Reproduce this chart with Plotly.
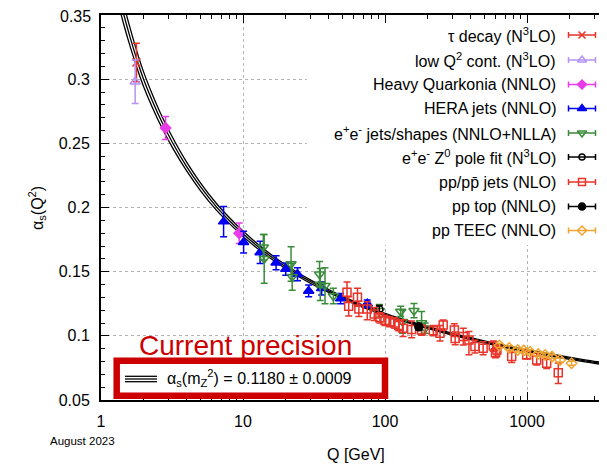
import plotly.graph_objects as go

# running coupling curve (central value and half band width)
curve_q = [1.3, 1.45, 1.6, 1.8, 2.0, 2.3, 2.7, 3.2, 4.0, 5.0, 6.5, 8.0, 10, 13, 17, 22, 30, 40,
           55, 75, 91.2, 120, 170, 250, 400, 650, 1000, 1600, 2500, 3800]
curve_mid = [0.371, 0.350, 0.333, 0.3144, 0.2996, 0.283, 0.266, 0.2503, 0.2321, 0.2164, 0.2005,
             0.1899, 0.1796, 0.1688, 0.1591, 0.1508, 0.1421, 0.135, 0.1278, 0.1218, 0.1183,
             0.1138, 0.1087, 0.1035, 0.0978, 0.0925, 0.0884, 0.0843, 0.0807, 0.0777]
curve_band = [0.0088, 0.0078, 0.0071, 0.0063, 0.0057, 0.0051, 0.0045, 0.0040, 0.0034, 0.0030,
              0.0026, 0.0023, 0.0021, 0.0018, 0.0016, 0.0015, 0.0013, 0.0012, 0.0010, 0.0009,
              0.0009, 0.0008, 0.0008, 0.0008, 0.0008, 0.0008, 0.0008, 0.0008, 0.0008, 0.0008]

tau_q = [1.777]
tau_a = [0.313]
tau_e = [0.015]

lowq_q = [1.74]
lowq_a = [0.298]
lowq_e = [0.017]

hq_q = [2.85, 9.4]
hq_a = [0.262, 0.180]
hq_e = [0.009, 0.008]

hera_q = [7.3, 10.1, 13.2, 17.1, 20.0, 24.2, 29.0, 35.8, 48.7, 75.0]
hera_a = [0.189, 0.173, 0.165, 0.157, 0.152, 0.148, 0.135, 0.137, 0.129, 0.125]
hera_e = [0.0117, 0.0084, 0.0087, 0.0055, 0.0047, 0.005, 0.0046, 0.0052, 0.004, 0.003]

ee_q = [13.9, 14.1, 21.8, 22.2, 34.6, 35.0, 37.8, 43.3, 91.2, 129, 133, 160, 181, 192]
ee_a = [0.169, 0.160, 0.156, 0.146, 0.148, 0.140, 0.139, 0.131, 0.1195, 0.119, 0.111, 0.1196,
        0.110, 0.106]
ee_e = [0.010, 0.019, 0.0135, 0.0105, 0.010, 0.0125, 0.014, 0.006, 0.005, 0.004, 0.009, 0.0055,
        0.009, 0.004]

zpole_q = [91.19]
zpole_a = [0.1208]
zpole_e = [0.0028]

pp_q = [54, 55.5, 64, 65.5, 75, 84, 92, 100, 108, 117, 125, 134, 154, 181, 219, 244, 257, 308,
        312, 356, 390, 430, 491, 579, 600, 614, 780, 995, 1170, 1376, 1660]
pp_a = [0.134, 0.123, 0.130, 0.121, 0.121, 0.117, 0.114, 0.112, 0.111, 0.110, 0.108, 0.106, 0.105,
        0.1045, 0.104, 0.102, 0.1084, 0.1045, 0.098, 0.0994, 0.0968, 0.0916, 0.0903, 0.092, 0.0869,
        0.089, 0.0838, 0.0851, 0.0812, 0.0786, 0.0713]
pp_up = [0.008, 0.0075, 0.007, 0.006, 0.0055, 0.005, 0.004, 0.004, 0.004, 0.004, 0.004, 0.0065,
         0.0065, 0.004, 0.004, 0.006, 0.004, 0.005, 0.005, 0.0065, 0.0065, 0.005, 0.005, 0.004,
         0.004, 0.004, 0.0045, 0.003, 0.0055, 0.004, 0.0075]
pp_dn = [0.008, 0.0075, 0.007, 0.006, 0.0085, 0.005, 0.004, 0.004, 0.004, 0.004, 0.004, 0.0065,
         0.0065, 0.004, 0.004, 0.006, 0.004, 0.005, 0.005, 0.0065, 0.0115, 0.005, 0.005, 0.004,
         0.004, 0.004, 0.0045, 0.003, 0.004, 0.004, 0.0085]

top_q = [173]
top_a = [0.107]
top_e = [0.0025]

teec_q = [640, 750, 860, 950, 1050, 1200, 1340, 1500, 1710, 2060]
teec_a = [0.0925, 0.0905, 0.089, 0.0885, 0.0876, 0.0858, 0.0851, 0.0838, 0.0812, 0.0786]
teec_e = [0.0015, 0.0015, 0.0015, 0.0015, 0.0015, 0.0015, 0.0015, 0.0015, 0.0015, 0.0015]

y_ticks = [0.05, 0.1, 0.15, 0.2, 0.25, 0.3, 0.35]
y_labels = ['0.05', '0.1', '0.15', '0.2', '0.25', '0.3', '0.35']

RED = '#e8342a'
series = [
    # label, q, alpha, err up, err down, colour, symbol, size
    ('τ decay (N<sup>3</sup>LO)', tau_q, tau_a, tau_e, tau_e, RED, 'x-thin', 8),
    ('low Q<sup>2</sup> cont. (N<sup>3</sup>LO)', lowq_q, lowq_a, lowq_e, lowq_e, '#b594f5', 'triangle-up-open', 9),
    ('Heavy Quarkonia (NNLO)', hq_q, hq_a, hq_e, hq_e, '#e83ce8', 'diamond', 8),
    ('HERA jets (NNLO)', hera_q, hera_a, hera_e, hera_e, '#0000f0', 'triangle-up', 9),
    ('e<sup>+</sup>e<sup>-</sup> jets/shapes (NNLO+NLLA)', ee_q, ee_a, ee_e, ee_e, '#3a8c3a', 'triangle-down-open', 9),
    ('e<sup>+</sup>e<sup>-</sup> Z<sup>0</sup> pole fit (N<sup>3</sup>LO)', zpole_q, zpole_a, zpole_e, zpole_e, 'black', 'circle-open', 7),
    ('pp/pp\u0304 jets (NLO)', pp_q, pp_a, pp_up, pp_dn, RED, 'square-open', 8),
    ('pp top (NNLO)', top_q, top_a, top_e, top_e, 'black', 'circle', 8),
    ('pp TEEC (NNLO)', teec_q, teec_a, teec_e, teec_e, '#f0a431', 'diamond-open', 8),
]

# plot area in screen pixels: x 101..607, y 15..400 (page body adds 8 px)
def px(x):
    return (x - 101) / 506.0


def py(y):
    return (400 - y) / 385.0


fig = go.Figure()

# band: lower, central, upper line
for sign in (-1, 0, 1):
    fig.add_trace(go.Scatter(
        x=curve_q, y=[m + sign * b for m, b in zip(curve_mid, curve_band)],
        mode='lines', line=dict(color='black', width=1.3, shape='spline'),
        hoverinfo='skip'))

for label, q, a, up, dn, col, sym, size in series:
    fig.add_trace(go.Scatter(
        x=q, y=a, mode='markers', name=label,
        marker=dict(symbol=sym, size=size, color=col, line=dict(color=col, width=1.5)),
        error_y=dict(type='data', array=up, arrayminus=dn, color=col, thickness=1.5, width=3.5)))

# hand made legend: text right aligned, sample on the right
legend_rows = [35, 60, 84.5, 108.5, 133, 157, 182, 206.5, 230.5]
annotations = []
for (label, q, a, up, dn, col, sym, size), ry in zip(series, legend_rows):
    annotations.append(dict(x=px(558), y=py(ry), text=label, xanchor='right',
                            font=dict(size=16, color='black')))
    fig.add_trace(go.Scatter(
        x=[px(582)], y=[py(ry)], xaxis='x2', yaxis='y2', mode='markers',
        marker=dict(symbol=sym, size=size - 1, color=col, line=dict(color=col, width=1.5)),
        error_x=dict(type='constant', value=13.5 / 506, color=col, thickness=1.5, width=3)))

annotations += [
    # top tick label sits on the page edge, plotly drops it, so write it by hand
    dict(x=px(93), y=py(16), xanchor='right', text=y_labels[-1], font=dict(size=16)),
    dict(x=px(37), y=py(208), text='α<sub>s</sub>(Q<sup>2</sup>)', textangle=-90,
         font=dict(size=16)),
    dict(x=px(356), y=py(454), text='Q [GeV]', font=dict(size=16)),
    dict(x=px(82), y=py(441), text='August 2023', font=dict(size=11.5)),
    dict(x=px(245), y=py(345), text='Current precision', font=dict(size=28, color='#cc0000')),
    dict(x=px(165), y=py(378), xanchor='left',
         text='α<sub>s</sub>(m<sub>Z</sub><sup>2</sup>) = 0.1180 ± 0.0009', font=dict(size=16)),
]
for ann in annotations:
    ann.setdefault('xref', 'paper')
    ann.setdefault('yref', 'paper')
    ann.setdefault('xanchor', 'center')
    ann.setdefault('yanchor', 'middle')
    ann['showarrow'] = False

shapes = [
    # white background of the legend hides the grid
    dict(type='rect', xref='x', yref='y', x0=28.2, x1=5000, y0=0.1708, y1=0.36,
         fillcolor='white', line=dict(width=0), layer='between'),
    dict(type='rect', xref='paper', yref='paper', x0=px(116.7), x1=px(385), y0=py(395.7),
         y1=py(360.7), fillcolor='white', line=dict(color='#cc0000', width=6.5), layer='above'),
]
for ly in (376.3, 379, 381.7):
    shapes.append(dict(type='line', xref='paper', yref='paper', x0=px(125), x1=px(157),
                       y0=py(ly), y1=py(ly), line=dict(color='black', width=1.3)))

grid = dict(showgrid=True, gridcolor='#b4b4b4', griddash='dot', gridwidth=1, zeroline=False)

fig.update_layout(
    width=599, height=458,
    margin=dict(l=93, r=0, t=7, b=66),
    plot_bgcolor='white', paper_bgcolor='white',
    showlegend=False,
    font=dict(family='Liberation Sans, Arial, sans-serif', size=16, color='black'),
    xaxis=dict(type='log', range=[0, 3.5634], dtick=1, exponentformat='none',
               showline=True, linecolor='black', linewidth=2, mirror='ticks',
               ticks='inside', ticklen=8, tickcolor='black', ticklabelstandoff=6,
               minor=dict(dtick='D1', ticks='inside', ticklen=4, tickcolor='black', showgrid=False),
               **grid),
    yaxis=dict(range=[0.05, 0.35], tickmode='array', tickvals=y_ticks,
               ticktext=y_labels[:-1] + [''],
               showline=True, linecolor='black', linewidth=2,
               ticks='inside', ticklen=8, tickcolor='black', ticklabelstandoff=6,
               minor=dict(dtick=0.01, tick0=0.05, ticks='inside', ticklen=4, tickcolor='black',
                          showgrid=False),
               **grid),
    yaxis3=dict(overlaying='y', side='right', anchor='x', range=[0.05, 0.35], tickmode='array',
                tickvals=y_ticks, showline=False, showgrid=False, zeroline=False,
                showticklabels=False, ticks='inside', ticklen=6, tickcolor='black'),
    xaxis2=dict(overlaying='x', anchor='y2', range=[0, 1], visible=False),
    yaxis2=dict(overlaying='y', anchor='x2', range=[0, 1], visible=False),
    annotations=annotations,
    shapes=shapes,
)

fig.write_html("out.html")
